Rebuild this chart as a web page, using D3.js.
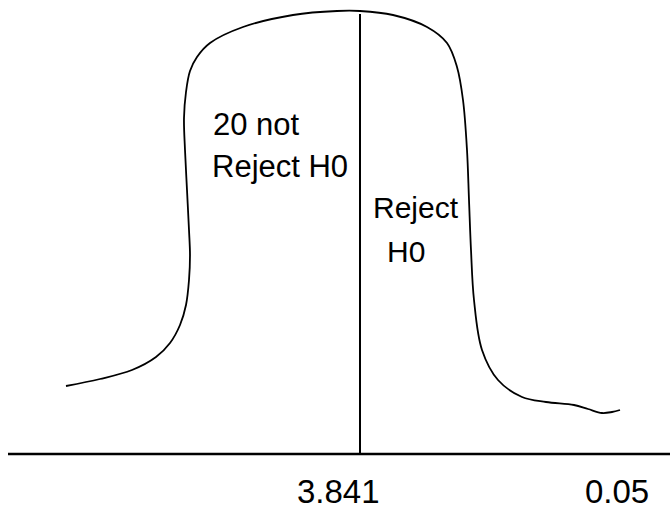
<!DOCTYPE html>
<html>
<head>
<meta charset="utf-8">
<script src="https://cdn.jsdelivr.net/npm/d3@7"></script>
<style>
  html, body { margin: 0; padding: 0; background: #fff; }
  svg { display: block; }
  text { font-family: "Liberation Sans", Arial, sans-serif; fill: #000; }
</style>
</head>
<body>
<svg id="chart" width="670" height="510"></svg>
<script>
// Hand-drawn distribution curve (x position, height above the axis)
const curveX = [66, 100, 132, 156, 170, 180, 186, 189, 190, 189, 187, 185, 184, 186, 190, 197, 210, 243, 293, 337, 360, 393, 427, 447, 457, 463, 467, 469, 471, 474, 482, 498, 522, 546, 574, 588, 602, 612, 620];
const curveY = [68, 75, 84, 97, 111, 129, 149, 174, 199, 224, 264, 304, 336, 362, 383, 397, 411, 427, 439, 443, 443, 439, 427, 411, 387, 354, 304, 254, 204, 154, 104, 74, 57, 52, 49, 45, 41, 42, 44];
const criticalX = 360;          // position of the critical value line
const criticalTop = 440;        // height of the critical value line
const axisLabels = ["3.841", "0.05"];
const axisLabelX = [297, 585];
const regionLabels = [
  { lines: ["20 not", "Reject H0"], x: 212 },
  { lines: ["Reject", "H0"], x: 373 }
];

const svg = d3.select("#chart");
const x = d3.scaleLinear().domain([0, 670]).range([0, 670]);
const y = d3.scaleLinear().domain([0, 454]).range([454, 0]);

// baseline axis
svg.append("line")
  .attr("x1", x(8)).attr("x2", x(670))
  .attr("y1", y(0)).attr("y2", y(0))
  .attr("stroke", "#000").attr("stroke-width", 2.4);

// critical value line
svg.append("line")
  .attr("x1", x(criticalX)).attr("x2", x(criticalX))
  .attr("y1", y(0)).attr("y2", y(criticalTop))
  .attr("stroke", "#000").attr("stroke-width", 2);

// curve
const pts = curveX.map((d, i) => [d, curveY[i]]);
const line = d3.line().x(d => x(d[0])).y(d => y(d[1])).curve(d3.curveCatmullRom.alpha(0.5));
svg.append("path")
  .attr("d", line(pts))
  .attr("fill", "none")
  .attr("stroke", "#000")
  .attr("stroke-width", 1.8);

// region labels
svg.append("text").attr("x", regionLabels[0].x + 1).attr("y", 135).attr("font-size", 31).text(regionLabels[0].lines[0]);
svg.append("text").attr("x", regionLabels[0].x).attr("y", 177).attr("font-size", 31).text(regionLabels[0].lines[1]);
svg.append("text").attr("x", regionLabels[1].x).attr("y", 218).attr("font-size", 30).text(regionLabels[1].lines[0]);
svg.append("text").attr("x", regionLabels[1].x + 14).attr("y", 262).attr("font-size", 30).text(regionLabels[1].lines[1]);

// axis labels
svg.selectAll("text.axis")
  .data(axisLabels)
  .enter().append("text")
  .attr("class", "axis")
  .attr("x", (d, i) => axisLabelX[i])
  .attr("y", 503)
  .attr("font-size", 33)
  .text(d => d);
</script>
</body>
</html>
